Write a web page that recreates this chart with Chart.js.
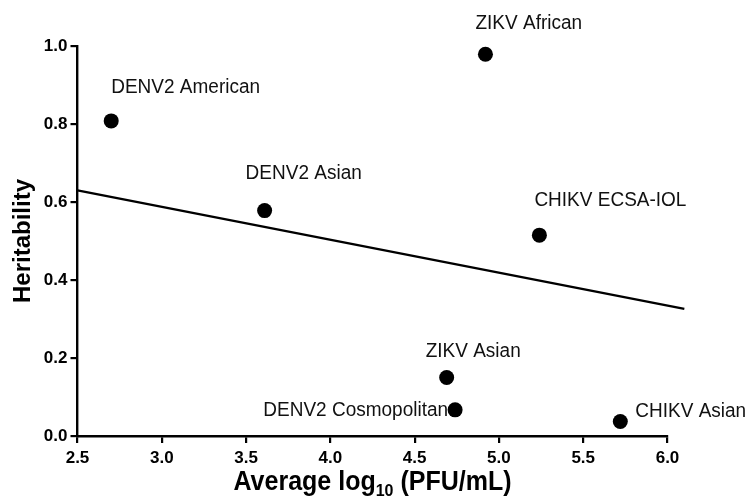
<!DOCTYPE html>
<html>
<head>
<meta charset="utf-8">
<script src="https://cdn.jsdelivr.net/npm/chart.js@4.4.1/dist/chart.umd.min.js"></script>
<style>
    body { margin: 0; background: #fff; }
</style>
</head>
<body>
<canvas id="heritability-chart" width="748" height="501"></canvas>

<script>
    // data
    let strains = ['DENV2 American', 'ZIKV African', 'DENV2 Asian', 'CHIKV ECSA-IOL', 'ZIKV Asian', 'DENV2 Cosmopolitan', 'CHIKV Asian'];
    let avg_log_pfu = [2.70, 4.92, 3.61, 5.24, 4.69, 4.74, 5.72];
    let heritability = [0.808, 0.979, 0.578, 0.515, 0.150, 0.067, 0.037];

    // fitted line end points
    let fit_x = [2.5, 6.1];
    let fit_y = [0.63, 0.326];

    let x_ticks = [2.5, 3.0, 3.5, 4.0, 4.5, 5.0, 5.5, 6.0];
    let y_ticks = [0.0, 0.2, 0.4, 0.6, 0.8, 1.0];

    // where each strain label sits relative to its point (pixels)
    let label_align = ['left', 'left', 'left', 'left', 'left', 'right', 'left'];
    let label_dx = [0, -10, -19, -5, -21, -7, 15];
    let label_dy = [-34, -31, -37, -35, -26, 0, -10];

    Chart.defaults.font.family = '"Liberation Sans", Arial, sans-serif';
    Chart.defaults.color = '#000';

    // strain names next to the points
    const point_labels = {
        id: 'point_labels',
        afterDatasetsDraw(chart) {
            let ctx = chart.ctx;
            let xs = chart.scales.x, ys = chart.scales.y;
            ctx.save();
            ctx.font = '19px "Liberation Sans", Arial, sans-serif';
            ctx.fillStyle = '#111';
            ctx.textBaseline = 'middle';
            strains.forEach((name, i) => {
                ctx.textAlign = label_align[i];
                let px = xs.getPixelForValue(avg_log_pfu[i]) + label_dx[i];
                let py = ys.getPixelForValue(heritability[i]) + label_dy[i];
                ctx.save();
                ctx.translate(px, py);
                ctx.scale(1, 1.08);
                ctx.fillText(name, 0, 0);
                ctx.restore();
            });
            ctx.restore();
        }
    };

    // x axis title with the subscript
    const x_title = {
        id: 'x_title',
        afterDraw(chart) {
            let ctx = chart.ctx;
            let area = chart.chartArea;
            let main_font = 'bold 25px "Liberation Sans", Arial, sans-serif';
            let sub_font = 'bold 16px "Liberation Sans", Arial, sans-serif';
            let a = 'Average log', sub = '10', b = ' (PFU/mL)';
            ctx.save();
            ctx.fillStyle = '#000';
            ctx.textBaseline = 'alphabetic';
            ctx.textAlign = 'left';
            ctx.font = main_font;
            let wa = ctx.measureText(a).width, wb = ctx.measureText(b).width;
            ctx.font = sub_font;
            let ws = ctx.measureText(sub).width;
            let x = (area.left + area.right) / 2 - (wa + ws + wb) / 2;
            ctx.translate(0, 490);
            ctx.scale(1, 1.08);
            ctx.font = main_font;
            ctx.fillText(a, x, 0);
            ctx.font = sub_font;
            ctx.fillText(sub, x + wa, 6);
            ctx.font = main_font;
            ctx.fillText(b, x + wa + ws, 0);
            ctx.restore();
        }
    };

    let chart_el = document.getElementById('heritability-chart');
    new Chart(chart_el, {
        type: 'scatter',
        data: {
            datasets: [{
                    label: 'Strains',
                    data: avg_log_pfu.map((x, i) => ({x: x, y: heritability[i]})),
                    backgroundColor: '#000',
                    borderWidth: 0,
                    pointRadius: 7.5,
                    pointHoverRadius: 7.5
                }, {
                    label: 'Fit',
                    type: 'line',
                    data: fit_x.map((x, i) => ({x: x, y: fit_y[i]})),
                    borderColor: '#000',
                    borderWidth: 2.2,
                    pointRadius: 0,
                    fill: false,
                    clip: false
                }]
        },
        options: {
            responsive: false,
            animation: false,
            devicePixelRatio: 1,
            layout: {
                padding: {top: 46, right: 80.5, left: 0, bottom: 0}
            },
            plugins: {
                legend: {display: false},
                tooltip: {enabled: false}
            },
            scales: {
                x: {
                    type: 'linear',
                    min: 2.5,
                    max: 6.0,
                    afterFit: (scale) => { scale.height = 65; },
                    afterBuildTicks: (scale) => { scale.ticks = x_ticks.map(v => ({value: v})); },
                    border: {display: true, color: '#000', width: 2.4},
                    grid: {drawOnChartArea: false, drawTicks: true, tickLength: 7, color: '#000', lineWidth: 2.2},
                    ticks: {
                        padding: 5,
                        font: {size: 17, weight: 'bold'},
                        callback: (v) => Number(v).toFixed(1)
                    }
                },
                y: {
                    type: 'linear',
                    min: 0,
                    max: 1.0,
                    afterFit: (scale) => { scale.width = 77.5; },
                    afterBuildTicks: (scale) => { scale.ticks = y_ticks.map(v => ({value: v})); },
                    border: {display: true, color: '#000', width: 2.4},
                    grid: {drawOnChartArea: false, drawTicks: true, tickLength: 7, color: '#000', lineWidth: 2.2},
                    ticks: {
                        padding: 3,
                        font: {size: 17, weight: 'bold'},
                        callback: (v) => Number(v).toFixed(1)
                    },
                    title: {
                        display: true,
                        text: 'Heritability',
                        font: {size: 24, weight: 'bold'},
                        padding: {top: 9, bottom: 0}
                    }
                }
            }
        },
        plugins: [point_labels, x_title]
    });
</script>
</body>
</html>
